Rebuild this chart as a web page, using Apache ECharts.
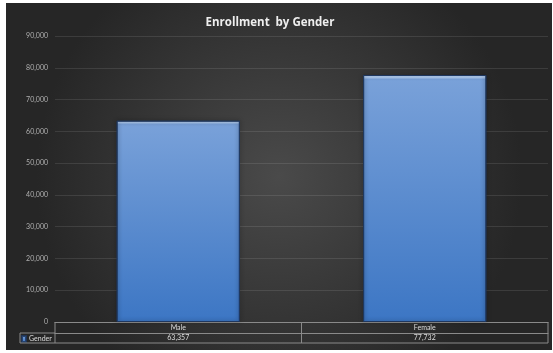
<!DOCTYPE html>
<html>
<head>
<meta charset="utf-8">
<script src="https://cdn.jsdelivr.net/npm/echarts@6/dist/echarts.min.js"></script>
<style>
  html, body { margin: 0; padding: 0; background: #ffffff; }
  #chart { width: 553px; height: 353px; }
</style>
</head>
<body>
<div id="chart"></div>
<script>
// Enrollment counts by gender
const categories = ['Male', 'Female'];
const enrollment = [63357, 77732];
const seriesName = 'Gender';
const yTicks = { min: 0, max: 90000, interval: 10000 };

const fmt = v => v.toLocaleString('en-US');
const FONT = 'Lato, "Open Sans", sans-serif';
const lineColor = '#8a8a8a';

const backdrop = () => ({
  type: 'rect',
  z: -10,
  silent: true,
  shape: { x: 6, y: 3, width: 546, height: 347 },
  style: {
    fill: new echarts.graphic.RadialGradient(0.5, 0.5, 0.7, [
      { offset: 0, color: '#4a4a4a' },
      { offset: 1, color: '#262626' }
    ])
  }
});

const chart = echarts.init(document.getElementById('chart'), null, { renderer: 'canvas' });

chart.setOption({
  animation: false,
  backgroundColor: '#ffffff',
  textStyle: { fontFamily: FONT },
  title: {
    text: 'Enrollment  by Gender',
    left: 265,
    top: 12,
    textAlign: 'center',
    textStyle: { color: '#eeeeee', fontSize: 11.5, fontWeight: 'bold', fontFamily: '"Open Sans", Lato, sans-serif' }
  },
  legend: {
    data: [seriesName],
    left: 21,
    top: 335,
    itemWidth: 4,
    itemHeight: 6,
    itemGap: 2,
    icon: 'rect',
    padding: 0,
    textStyle: { color: '#dddddd', fontSize: 7, fontFamily: FONT, padding: [0, 0, 0, -2] }
  },
  grid: { left: 55, right: 5, top: 36, bottom: 31 },
  xAxis: [
    {
      type: 'category',
      data: categories,
      position: 'bottom',
      axisLine: { show: true, lineStyle: { color: lineColor, width: 1 } },
      axisTick: { show: false },
      axisLabel: { color: '#dddddd', fontSize: 7, margin: 2, fontFamily: FONT }
    },
    {
      type: 'category',
      data: enrollment.map(fmt),
      position: 'bottom',
      offset: 11,
      axisLine: { show: true, lineStyle: { color: lineColor, width: 1 } },
      axisTick: { show: false },
      axisLabel: { color: '#dddddd', fontSize: 7, margin: 1.5, fontFamily: FONT }
    }
  ],
  yAxis: {
    type: 'value',
    min: yTicks.min,
    max: yTicks.max,
    interval: yTicks.interval,
    axisLine: { show: false },
    axisTick: { show: false },
    axisLabel: { color: '#b0b0b0', fontSize: 7, margin: 7, formatter: v => fmt(v), fontFamily: FONT },
    splitLine: { lineStyle: { color: 'rgba(255,255,255,0.10)', width: 1 } }
  },
  series: [{
    name: seriesName,
    type: 'bar',
    data: enrollment,
    barWidth: '50%',
    itemStyle: {
      color: new echarts.graphic.LinearGradient(0, 0, 0, 1, [
        { offset: 0, color: '#bcd5f4' },
        { offset: 0.011, color: '#a9c7ef' },
        { offset: 0.017, color: '#79a1d9' },
        { offset: 1, color: '#3c76c4' }
      ]),
      borderColor: 'rgba(30,55,95,0.85)',
      borderWidth: 1,
      shadowColor: 'rgba(0,0,0,0.55)',
      shadowBlur: 4,
      shadowOffsetX: 0,
      shadowOffsetY: 0
    }
  }],
  graphic: [backdrop()]
});

// Data-table frame, placed from the grid's own pixel mapping
function drawTable() {
  const x0 = chart.convertToPixel({ xAxisIndex: 0 }, 0);
  const x1 = chart.convertToPixel({ xAxisIndex: 0 }, 1);
  const half = (x1 - x0) / 2;
  const left = x0 - half, mid = x0 + half, right = x1 + half;
  const top = chart.convertToPixel({ yAxisIndex: 0 }, 0);
  const r1 = top + 11, r2 = top + 21;
  const keyLeft = 20;
  const ls = { stroke: lineColor, lineWidth: 1 };
  const seg = (a, b, c, d) => ({ type: 'line', silent: true, z: 5, shape: { x1: a, y1: b, x2: c, y2: d }, style: ls });
  chart.setOption({
    graphic: [
      backdrop(),
      seg(left, top, left, r2),
      seg(mid, top, mid, r2),
      seg(right, top, right, r2),
      seg(keyLeft, r1, left, r1),
      seg(keyLeft, r1, keyLeft, r2),
      seg(keyLeft, r2, right, r2)
    ]
  }, { replaceMerge: ['graphic'] });
}
drawTable();
</script>
</body>
</html>
